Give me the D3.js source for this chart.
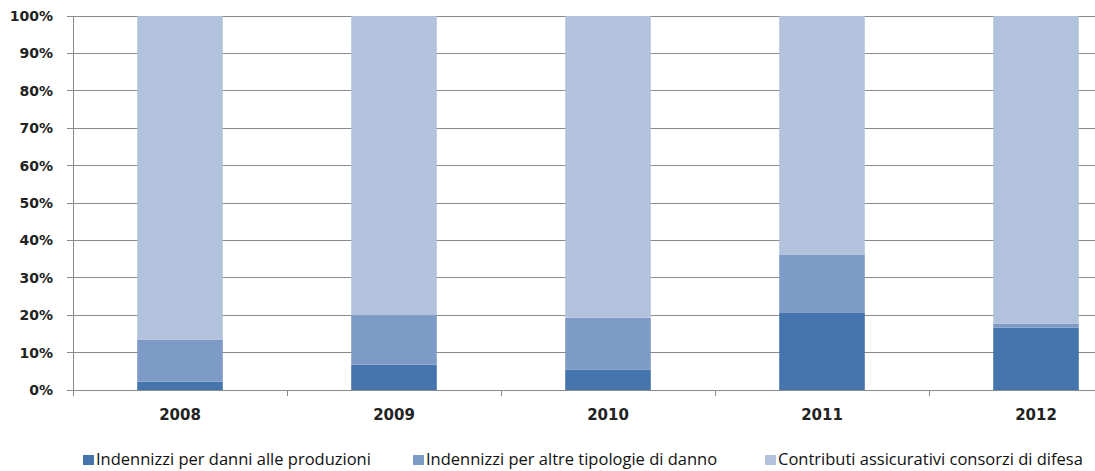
<!DOCTYPE html>
<html><head><meta charset="utf-8">
<script src="https://cdn.jsdelivr.net/npm/d3@7"></script>
<style>body{margin:0;background:#fff;} svg{display:block;}</style>
</head><body>
<svg id="chart" width="1095" height="471"></svg>
<script>
const years = ["2008","2009","2010","2011","2012"];
const seriesNames = ["Indennizzi per danni alle produzioni","Indennizzi per altre tipologie di danno","Contributi assicurativi consorzi di difesa"];
const danniProduzioni = [2.2, 6.8, 5.5, 20.6, 16.7];
const altreTipologie = [11.2, 13.2, 13.8, 15.5, 1.0];
const contributiConsorzi = [86.6, 80.0, 80.7, 63.9, 82.3];
const yTicks = [0,10,20,30,40,50,60,70,80,90,100];
const colors = ["#4674AD","#7E9BC8","#B2C2DC"];

const svg = d3.select("#chart");
const pLeft = 73, pRight = 1143, pTop = 16, pBottom = 390;
const x = d3.scaleBand().domain(years).range([pLeft, pRight]).paddingInner(0.6).paddingOuter(0.3);
const y = d3.scaleLinear().domain([0,100]).range([pBottom, pTop]);

// gridlines
svg.append("g").selectAll("line").data(yTicks).join("line")
  .attr("x1", pLeft - 6).attr("x2", 1095)
  .attr("y1", d => y(d)).attr("y2", d => y(d))
  .attr("stroke", "#8a8a8a").attr("stroke-width", 1).attr("shape-rendering","crispEdges");

// y labels
svg.append("g").selectAll("text").data(yTicks).join("text")
  .attr("x", 53).attr("y", d => y(d)).attr("dy", "0.36em")
  .attr("text-anchor", "end")
  .attr("font-family", "DejaVu Sans, sans-serif").attr("font-weight", "bold").attr("font-size", 14)
  .attr("fill", "#222").text(d => d + "%");

// stacked bars
const rows = years.map((yr, i) => ({year: yr, a: danniProduzioni[i], b: altreTipologie[i], c: contributiConsorzi[i]}));
const stack = d3.stack().keys(["a","b","c"])(rows);
svg.append("g").selectAll("g").data(stack).join("g")
  .attr("fill", (d,i) => colors[i])
  .selectAll("rect").data(d => d).join("rect")
  .attr("x", d => x(d.data.year)).attr("width", x.bandwidth())
  .attr("y", d => y(d[1])).attr("height", d => y(d[0]) - y(d[1]));

// y axis line
svg.append("line").attr("x1", pLeft).attr("x2", pLeft).attr("y1", pTop).attr("y2", pBottom + 6)
  .attr("stroke", "#8a8a8a").attr("shape-rendering","crispEdges");
// x axis
svg.append("line").attr("x1", pLeft).attr("x2", 1095).attr("y1", pBottom).attr("y2", pBottom)
  .attr("stroke", "#8a8a8a").attr("shape-rendering","crispEdges");
const bounds = d3.range(1, years.length).map(i => pLeft + i * x.step());
svg.append("g").selectAll("line").data(bounds).join("line")
  .attr("x1", d => d).attr("x2", d => d).attr("y1", pBottom).attr("y2", pBottom + 6)
  .attr("stroke", "#8a8a8a").attr("shape-rendering","crispEdges");

svg.append("g").selectAll("text").data(years).join("text")
  .attr("x", d => x(d) + x.bandwidth()/2).attr("y", 420)
  .attr("text-anchor", "middle")
  .attr("font-family", "DejaVu Sans, sans-serif").attr("font-weight", "bold").attr("font-size", 15)
  .attr("fill", "#222").text(d => d);

// legend
const legendX = [83, 413, 765];
const lg = svg.append("g").selectAll("g").data(seriesNames).join("g")
  .attr("transform", (d,i) => `translate(${legendX[i]},0)`);
lg.append("rect").attr("x", 0).attr("y", 455).attr("width", 11).attr("height", 10).attr("fill", (d,i) => colors[i]);
lg.append("text").attr("x", 13).attr("y", 465)
  .attr("font-family", "Open Sans, Liberation Sans, sans-serif").attr("font-size", 16.5)
  .attr("fill", "#111").text(d => d);
</script>
</body></html>
